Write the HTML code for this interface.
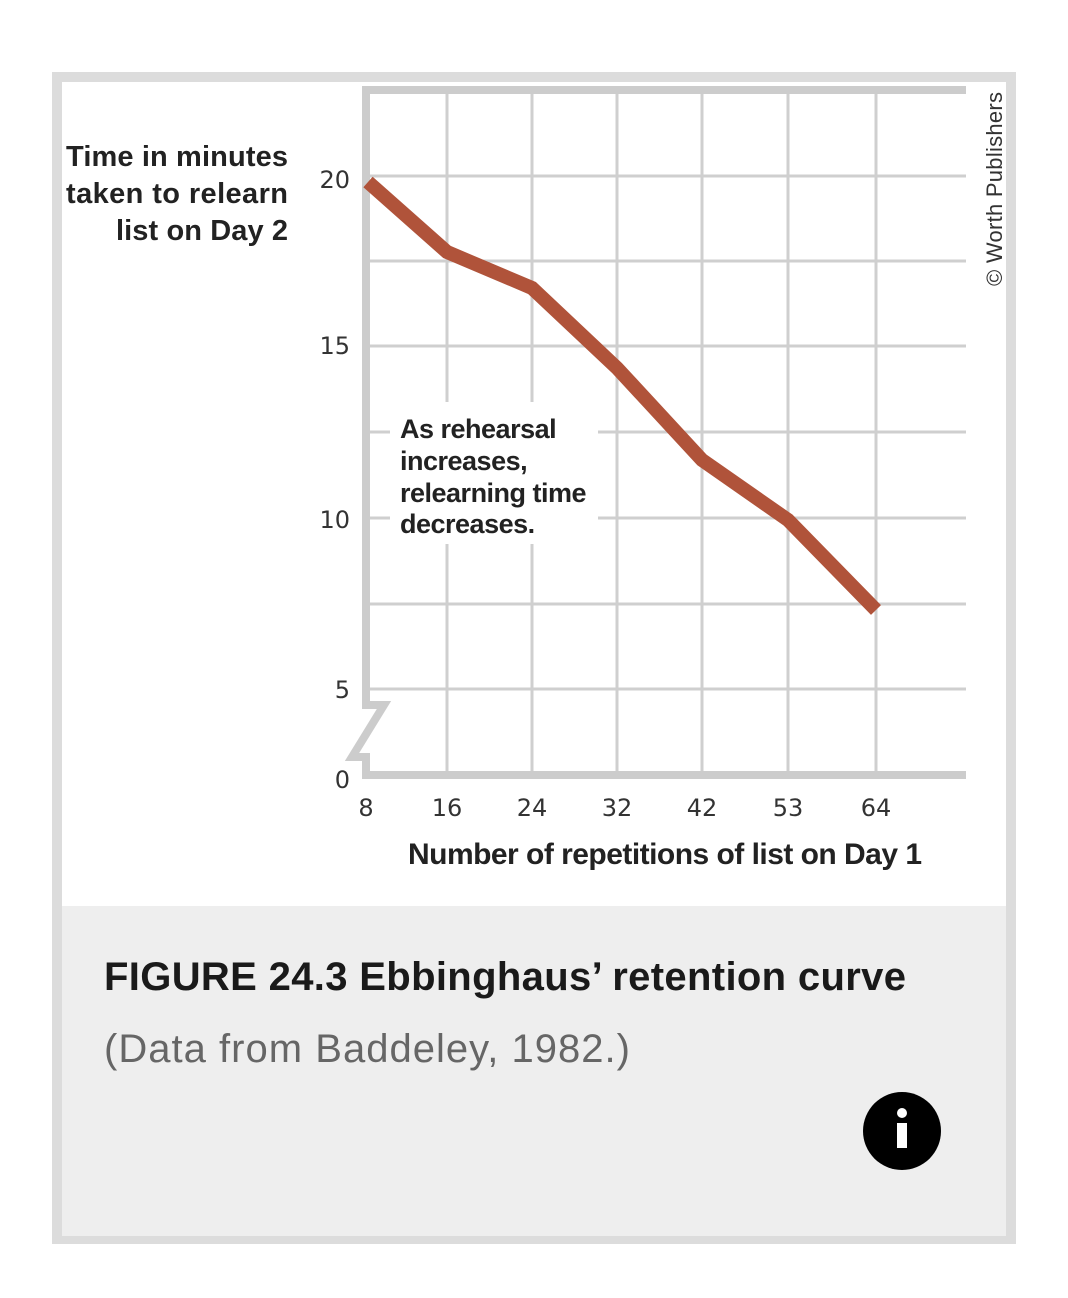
<!DOCTYPE html>
<html><head><meta charset="utf-8"><style>
html,body{margin:0;padding:0;background:#fff;}
body{width:1068px;height:1298px;position:relative;overflow:hidden;font-family:"Liberation Sans",sans-serif;}
</style></head><body>
<svg width="1068" height="1298" viewBox="0 0 1068 1298" xmlns="http://www.w3.org/2000/svg" style="position:absolute;left:0;top:0">
<rect x="52" y="72" width="964" height="1172" fill="#dcdcdc"/>
<rect x="62" y="82" width="944" height="824" fill="#fff"/>
<rect x="62" y="906" width="944" height="330" fill="#eeeeee"/>
<g stroke="#cfcfcf" stroke-width="3" fill="none">
<line x1="366" y1="176" x2="966" y2="176"/>
<line x1="366" y1="261" x2="966" y2="261"/>
<line x1="366" y1="346" x2="966" y2="346"/>
<line x1="366" y1="432" x2="966" y2="432"/>
<line x1="366" y1="518" x2="966" y2="518"/>
<line x1="366" y1="604" x2="966" y2="604"/>
<line x1="366" y1="689" x2="966" y2="689"/>
<line x1="447" y1="90" x2="447" y2="775"/>
<line x1="532" y1="90" x2="532" y2="775"/>
<line x1="617" y1="90" x2="617" y2="775"/>
<line x1="702" y1="90" x2="702" y2="775"/>
<line x1="788" y1="90" x2="788" y2="775"/>
<line x1="876" y1="90" x2="876" y2="775"/>
</g>
<g stroke="#cccccc" stroke-width="8" fill="none" stroke-linejoin="miter">
<line x1="362" y1="90" x2="966" y2="90"/>
<polyline points="366,88 366,705 384,705 352,757 366,757 366,775 966,775"/>
</g>
<rect x="390" y="402" width="208" height="142" fill="#fff"/>
<polyline points="368,182 447,252 532,288 617,368 702,460 788,520 876,610" fill="none" stroke="#b0533a" stroke-width="14" stroke-linejoin="miter"/>
<g font-family="Liberation Sans, sans-serif" font-size="29" fill="#222" text-anchor="end" font-weight="bold">
<text x="288" y="166" textLength="222">Time in minutes</text>
<text x="288" y="203" textLength="222">taken to relearn</text>
<text x="288" y="240" textLength="172">list on Day 2</text>
</g>
<g font-family="DejaVu Sans, sans-serif" font-size="24" fill="#333" text-anchor="end">
<text x="350" y="188">20</text>
<text x="350" y="354">15</text>
<text x="350" y="528">10</text>
<text x="350" y="698">5</text>
<text x="350" y="788">0</text>
</g>
<g font-family="DejaVu Sans, sans-serif" font-size="24" fill="#333" text-anchor="middle">
<text x="366" y="816">8</text>
<text x="447" y="816">16</text>
<text x="532" y="816">24</text>
<text x="617" y="816">32</text>
<text x="702" y="816">42</text>
<text x="788" y="816">53</text>
<text x="876" y="816">64</text>
</g>
<text x="665" y="864" text-anchor="middle" font-size="30" font-weight="bold" fill="#222" textLength="514">Number of repetitions of list on Day 1</text>
<g font-size="27" font-weight="bold" fill="#222" style="letter-spacing:-0.5px">
<text x="400" y="438">As rehearsal</text>
<text x="400" y="470">increases,</text>
<text x="400" y="502">relearning time</text>
<text x="400" y="533">decreases.</text>
</g>
<text transform="translate(1002,286) rotate(-90)" font-size="22" fill="#333" textLength="194">© Worth Publishers</text>
<text x="104" y="990" font-size="40" font-weight="bold" fill="#1a1a1a" textLength="802">FIGURE 24.3 Ebbinghaus’ retention curve</text>
<text x="104" y="1062" font-size="40" fill="#666" textLength="526">(Data from Baddeley, 1982.)</text>
<circle cx="902" cy="1131" r="39" fill="#000"/>
<circle cx="902" cy="1113" r="5" fill="#fff"/>
<rect x="897" y="1123" width="10" height="25" fill="#fff"/>
</svg>
</body></html>
